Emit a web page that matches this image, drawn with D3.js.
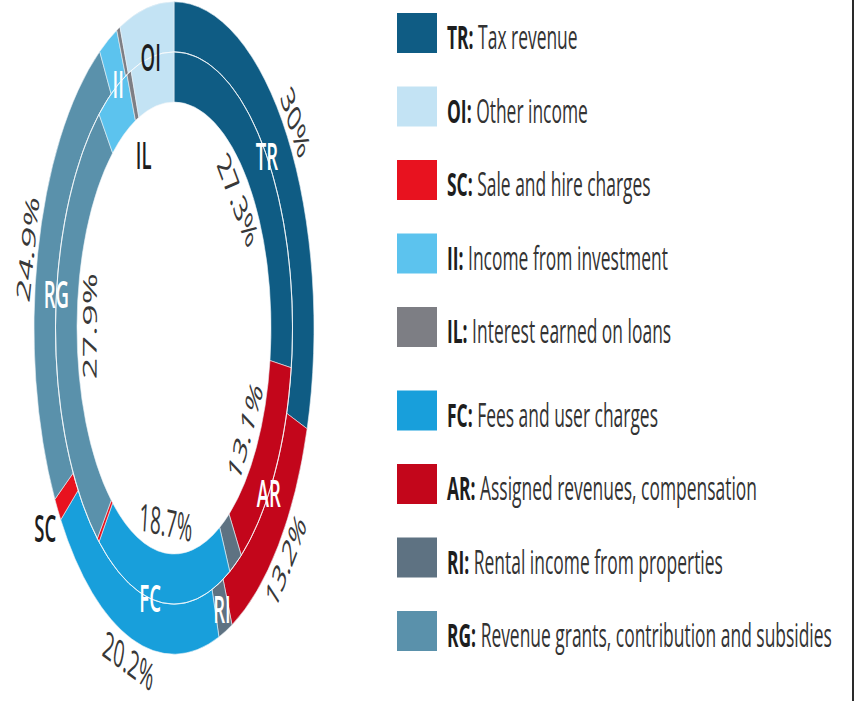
<!DOCTYPE html>
<html>
<head>
<meta charset="utf-8">
<script src="https://cdn.jsdelivr.net/npm/d3@7"></script>
<style>
  html, body { margin: 0; padding: 0; background: #fff; }
  svg { display: block; font-family: "Open Sans", "Noto Sans", sans-serif; }
</style>
</head>
<body>
<div id="chart"></div>
<script>
// Double anneau : anneau extérieur / anneau intérieur, mêmes catégories dans le même ordre
const ringOrder = ["TR", "AR", "RI", "FC", "SC", "RG", "II", "IL", "OI"]
const outerValues = [30, 13.2, 1.6, 20.2, 1.2, 24.9, 2.2, 0.4, 6.3]
const innerValues = [27.3, 13.1, 1.8, 18.7, 0.3, 27.9, 4.4, 0.6, 5.9]
const pctLabelled = ["TR", "AR", "FC", "RG"]

const legendOrder = ["TR", "OI", "SC", "II", "IL", "FC", "AR", "RI", "RG"]
const legendNames = {
  TR: "Tax revenue",
  OI: "Other income",
  SC: "Sale and hire charges",
  II: "Income from investment",
  IL: "Interest earned on loans",
  FC: "Fees and user charges",
  AR: "Assigned revenues, compensation",
  RI: "Rental income from properties",
  RG: "Revenue grants, contribution and subsidies"
}
const colors = {
  TR: "#0f5c84", OI: "#c3e3f4", SC: "#e8121f", II: "#5cc3ee", IL: "#7d7e84",
  FC: "#189fdb", AR: "#c3061b", RI: "#5e7282", RG: "#5a91ab"
}
const darkLabels = ["OI", "IL", "SC"]

const W = 856, H = 701
const cx = 174, cy = 328, K = 2.33      // l'anneau est étiré verticalement
const Kt = 2                             // étirement vertical des textes
const rIn = 97, rMid = 118.5, rOut = 140

const svg = d3.select("#chart").append("svg")
  .attr("width", W).attr("height", H)
  .attr("viewBox", `0 0 ${W} ${H}`)

const pie = d3.pie().sort(null).value((d) => d.v)
const mk = (vals) => pie(ringOrder.map((k, i) => ({ k, v: vals[i] })))
const outerArcs = mk(outerValues)
const innerArcs = mk(innerValues)

const ring = svg.append("g").attr("transform", `translate(${cx},${cy}) scale(1,${K})`)

const arcOuter = d3.arc().innerRadius(rMid).outerRadius(rOut)
const arcInner = d3.arc().innerRadius(rIn).outerRadius(rMid)

function drawRing(arcs, gen) {
  ring.append("g").selectAll("path")
    .data(arcs)
    .join("path")
    .attr("d", gen)
    .attr("fill", (d) => colors[d.data.k])
    .attr("stroke", "#e9f2f7")
    .attr("stroke-width", 0.6)
    .attr("vector-effect", "non-scaling-stroke")
}
drawRing(outerArcs, arcOuter)
drawRing(innerArcs, arcInner)

// filet blanc entre les deux anneaux
ring.append("circle")
  .attr("r", rMid).attr("fill", "none")
  .attr("stroke", "#ffffff").attr("stroke-opacity", 0.75).attr("stroke-width", 1)
  .attr("vector-effect", "non-scaling-stroke")

const mid = (d) => (d.startAngle + d.endAngle) / 2
const pos = (a, r) => [cx + r * Math.sin(a), cy - r * Math.cos(a) * K]
function tangentDeg(a) {
  let t = Math.atan2(Math.sin(a) * K / Kt, Math.cos(a)) * 180 / Math.PI
  if (Math.cos(a) < 0) t += 180
  return t
}

// Pourcentages tournés le long de l'anneau
function pctLabels(arcs, r) {
  svg.append("g").selectAll("text")
    .data(arcs.filter((d) => pctLabelled.includes(d.data.k)))
    .join("text")
    .attr("transform", (d) => {
      const a = mid(d), [x, y] = pos(a, r)
      return `translate(${x},${y}) scale(1,${Kt}) rotate(${tangentDeg(a)})`
    })
    .attr("text-anchor", "middle").attr("dy", "0.35em")
    .attr("font-size", 19).attr("fill", "#383838")
    .text((d) => `${d.data.v}%`)
}
pctLabels(outerArcs, 150)
pctLabels(innerArcs, 84)

// Codes des catégories
const codeLabels = ringOrder.map((k, i) => {
  const o = outerArcs[i], n = innerArcs[i]
  let a = (mid(o) + mid(n)) / 2, r = rMid
  if (k === "RI") { a = mid(o); r = 130 }
  if (k === "OI" || k === "II") a = mid(o)
  if (k === "IL") { a = mid(n); r = 80 }
  if (k === "SC") { a = mid(o); r = 155 }
  return { k, a, r }
})
svg.append("g").selectAll("text")
  .data(codeLabels)
  .join("text")
  .attr("transform", (d) => {
    const [x, y] = pos(d.a, d.r)
    return `translate(${x},${y}) scale(1,${Kt})`
  })
  .attr("text-anchor", "middle").attr("dy", "0.36em")
  .attr("font-size", 18.5).attr("font-weight", 600)
  .attr("fill", (d) => darkLabels.includes(d.k) ? "#1d1d1d" : "#ffffff")
  .text((d) => d.k)

// Légende
const legendY = (i) => 33 + i * 73.5 + (i >= 5 ? 10 : 0)
const legend = svg.append("g")
const rows = legend.selectAll("g")
  .data(legendOrder)
  .join("g")
  .attr("transform", (k, i) => `translate(397,${legendY(i)})`)
rows.append("rect")
  .attr("x", 0).attr("y", -20).attr("width", 40).attr("height", 40)
  .attr("fill", (k) => colors[k])
const lt = rows.append("text")
  .attr("transform", `translate(50,16) scale(1.09,${Kt})`)
  .attr("font-size", 16).attr("fill", "#333")
lt.append("tspan").attr("font-weight", 700).attr("fill", "#1d1d1d").text((k) => `${k}:`)
lt.append("tspan").text((k) => ` ${legendNames[k]}`)

// bordure droite
svg.append("line")
  .attr("x1", 853).attr("x2", 853).attr("y1", 0).attr("y2", H)
  .attr("stroke", "#2a2a2a").attr("stroke-width", 2)
</script>
</body>
</html>
